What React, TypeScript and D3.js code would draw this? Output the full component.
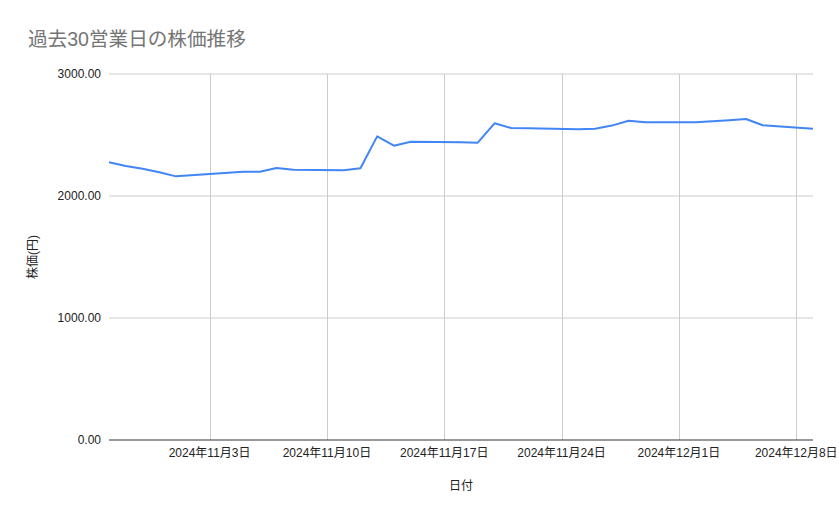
import React, { useEffect, useRef } from "react";
import * as d3 from "d3";

// Business days (Tokyo) and closing prices
const dates: string[] = [
  "2024-10-28", "2024-10-29", "2024-10-30", "2024-10-31", "2024-11-01",
  "2024-11-05", "2024-11-06", "2024-11-07", "2024-11-08",
  "2024-11-11", "2024-11-12", "2024-11-13", "2024-11-14", "2024-11-15",
  "2024-11-18", "2024-11-19", "2024-11-20", "2024-11-21", "2024-11-22",
  "2024-11-25", "2024-11-26", "2024-11-27", "2024-11-28", "2024-11-29",
  "2024-12-02", "2024-12-03", "2024-12-04", "2024-12-05", "2024-12-06",
  "2024-12-09",
];
const prices: number[] = [
  2276, 2246, 2224, 2194, 2161,
  2199, 2199, 2230, 2216,
  2211, 2227, 2489, 2412, 2445,
  2441, 2437, 2596, 2557, 2555,
  2547, 2552, 2577, 2617, 2604,
  2604, 2612, 2620, 2631, 2580,
  2552,
];
const yTicks: number[] = [0, 1000, 2000, 3000];
const xTickDates: string[] = [
  "2024-11-03", "2024-11-10", "2024-11-17", "2024-11-24", "2024-12-01", "2024-12-08",
];

const parse = d3.timeParse("%Y-%m-%d");

const App: React.FC = () => {
  const svgRef = useRef<SVGSVGElement | null>(null);

  useEffect(() => {
    if (!svgRef.current) return;
    const svg = d3.select(svgRef.current);
    svg.selectAll("*").remove();

    const width = 839;
    const height = 519;
    const margin = { top: 74, right: 26, bottom: 79, left: 109 };
    const chartWidth = width - margin.left - margin.right;
    const chartHeight = height - margin.top - margin.bottom;
    const font = "'Liberation Sans', Arial, 'Noto Sans CJK JP', sans-serif";

    svg.attr("width", width).attr("height", height);
    svg.append("rect").attr("width", width).attr("height", height).attr("fill", "#fff");

    // Title
    svg
      .append("text")
      .attr("x", 28)
      .attr("y", 46)
      .attr("font-family", font)
      .attr("font-size", "19.6px")
      .attr("fill", "#757575")
      .text("過去30営業日の株価推移");

    const g = svg.append("g").attr("transform", `translate(${margin.left}, ${margin.top})`);

    const xScale = d3
      .scaleTime()
      .domain([parse("2024-10-28") as Date, parse("2024-12-09") as Date])
      .range([0, chartWidth]);
    const yScale = d3.scaleLinear().domain([0, 3000]).range([chartHeight, 0]);

    // Horizontal gridlines
    g.selectAll(".hgrid")
      .data(yTicks.filter((d) => d !== 0))
      .enter()
      .append("line")
      .attr("x1", 0)
      .attr("x2", chartWidth)
      .attr("y1", (d) => yScale(d))
      .attr("y2", (d) => yScale(d))
      .attr("stroke", "#cccccc")
      .attr("stroke-width", 1);

    // Vertical gridlines
    const xTicks = xTickDates.map((d) => parse(d) as Date);
    g.selectAll(".vgrid")
      .data(xTicks)
      .enter()
      .append("line")
      .attr("x1", (d) => Math.round(xScale(d)) + 0.5)
      .attr("x2", (d) => Math.round(xScale(d)) + 0.5)
      .attr("y1", 0)
      .attr("y2", chartHeight)
      .attr("stroke", "#cccccc")
      .attr("stroke-width", 1);

    // Baseline
    g.append("line")
      .attr("x1", 0)
      .attr("x2", chartWidth)
      .attr("y1", yScale(0))
      .attr("y2", yScale(0))
      .attr("stroke", "#333333")
      .attr("stroke-width", 1);

    // Y labels
    g.selectAll(".ylabel")
      .data(yTicks)
      .enter()
      .append("text")
      .attr("x", -8)
      .attr("y", (d) => yScale(d))
      .attr("dy", "0.35em")
      .attr("text-anchor", "end")
      .attr("font-family", font)
      .attr("font-size", "12px")
      .attr("fill", "#222")
      .text((d) => d3.format(".2f")(d));

    // X labels
    g.selectAll(".xlabel")
      .data(xTicks)
      .enter()
      .append("text")
      .attr("x", (d) => xScale(d))
      .attr("y", chartHeight + 17)
      .attr("text-anchor", "middle")
      .attr("font-family", font)
      .attr("font-size", "12px")
      .attr("fill", "#222")
      .text((d) => `${d.getFullYear()}年${d.getMonth() + 1}月${d.getDate()}日`);

    // Axis titles
    g.append("text")
      .attr("x", chartWidth / 2)
      .attr("y", chartHeight + 50)
      .attr("text-anchor", "middle")
      .attr("font-family", font)
      .attr("font-size", "12px")
      .attr("fill", "#222")
      .text("日付");

    g.append("text")
      .attr("transform", "rotate(-90)")
      .attr("x", -chartHeight / 2)
      .attr("y", -72)
      .attr("text-anchor", "middle")
      .attr("font-family", font)
      .attr("font-size", "12px")
      .attr("fill", "#222")
      .text("株価(円)");

    // Price line
    const points = dates.map((d, i) => ({ date: parse(d) as Date, value: prices[i] }));
    const line = d3
      .line<{ date: Date; value: number }>()
      .x((d) => xScale(d.date))
      .y((d) => yScale(d.value));

    g.append("path")
      .datum(points)
      .attr("fill", "none")
      .attr("stroke", "#4285F4")
      .attr("stroke-width", 2)
      .attr("stroke-linejoin", "round")
      .attr("d", line);
  }, []);

  return <svg ref={svgRef} style={{ display: "block", position: "absolute", left: 0, top: 0 }} />;
};

export default App;
